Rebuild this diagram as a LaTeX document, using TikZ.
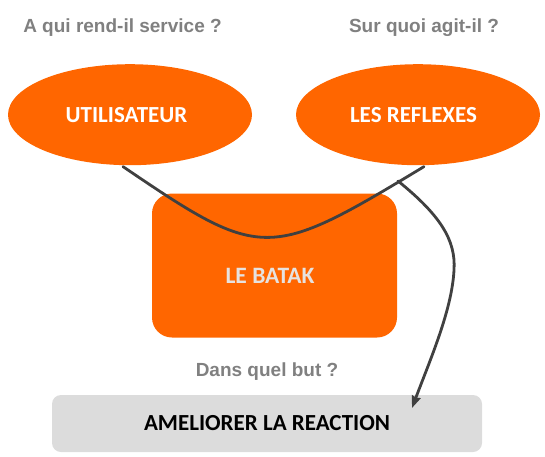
\documentclass[tikz,border=0pt]{standalone}
\usepackage{fontspec}
\usetikzlibrary{shapes.geometric,arrows.meta}
\newfontfamily\qfont{Liberation Sans}
\newfontfamily\boxfont{Carlito}
\definecolor{batakorange}{HTML}{FF6600}
\definecolor{qgray}{HTML}{808080}
\definecolor{linegray}{HTML}{404040}
\definecolor{goalgray}{HTML}{DCDCDC}
\definecolor{batakgray}{HTML}{E6E2E0}

\begin{document}
\begin{tikzpicture}[x=1pt,y=-1pt,line width=2.8pt,>={Stealth[length=12pt,width=9pt,inset=1pt]},
  question/.style={anchor=base,text=qgray,font=\qfont\bfseries\fontsize{19}{21}\selectfont},
  bigtext/.style={font=\boxfont\bfseries\fontsize{23}{25}\selectfont},
  blob/.style={ellipse,fill=batakorange,minimum width=244pt,minimum height=101pt,inner sep=0pt,text=white,bigtext},
  link/.style={draw=linegray,line cap=round}]
  \useasboundingbox (0,0) rectangle (545,456);

  \node[question] (q1) at (122.5,32) {A qui rend-il service ?};
  \node[question] (q2) at (424,32) {Sur quoi agit-il ?};

  \node[blob] (user) at (130,114.7) {\hspace*{-7pt}UTILISATEUR};
  \node[blob] (reflex) at (418,114.7) {\hspace*{-9pt}LES REFLEXES};

  \node[fill=batakorange,rounded corners=20pt,minimum width=245pt,minimum height=144pt] (batak) at (274.5,265.5) {};
  \node[bigtext,text=batakgray,font=\boxfont\bfseries\fontsize{23.5}{25}\selectfont] (batakname) at (270,276) {LE BATAK};

  \node[question] (q3) at (267,376) {Dans quel but ?};
  \node[fill=goalgray,rounded corners=9pt,minimum width=430pt,minimum height=57pt,bigtext] (goal) at (267,423.5) {AMELIORER LA REACTION};

  \coordinate (fork) at (398,181);
  \coordinate (tip) at (412,408);

  \draw[link] ([xshift=-7pt]user.south) .. controls (262,261) and (268,261) .. ([xshift=6pt]reflex.south);
  \draw[link,->] (fork) .. controls (440,215) and (456,240) .. (454,270)
    .. controls (452,310) and (430,360) .. (tip);
\end{tikzpicture}
\end{document}
